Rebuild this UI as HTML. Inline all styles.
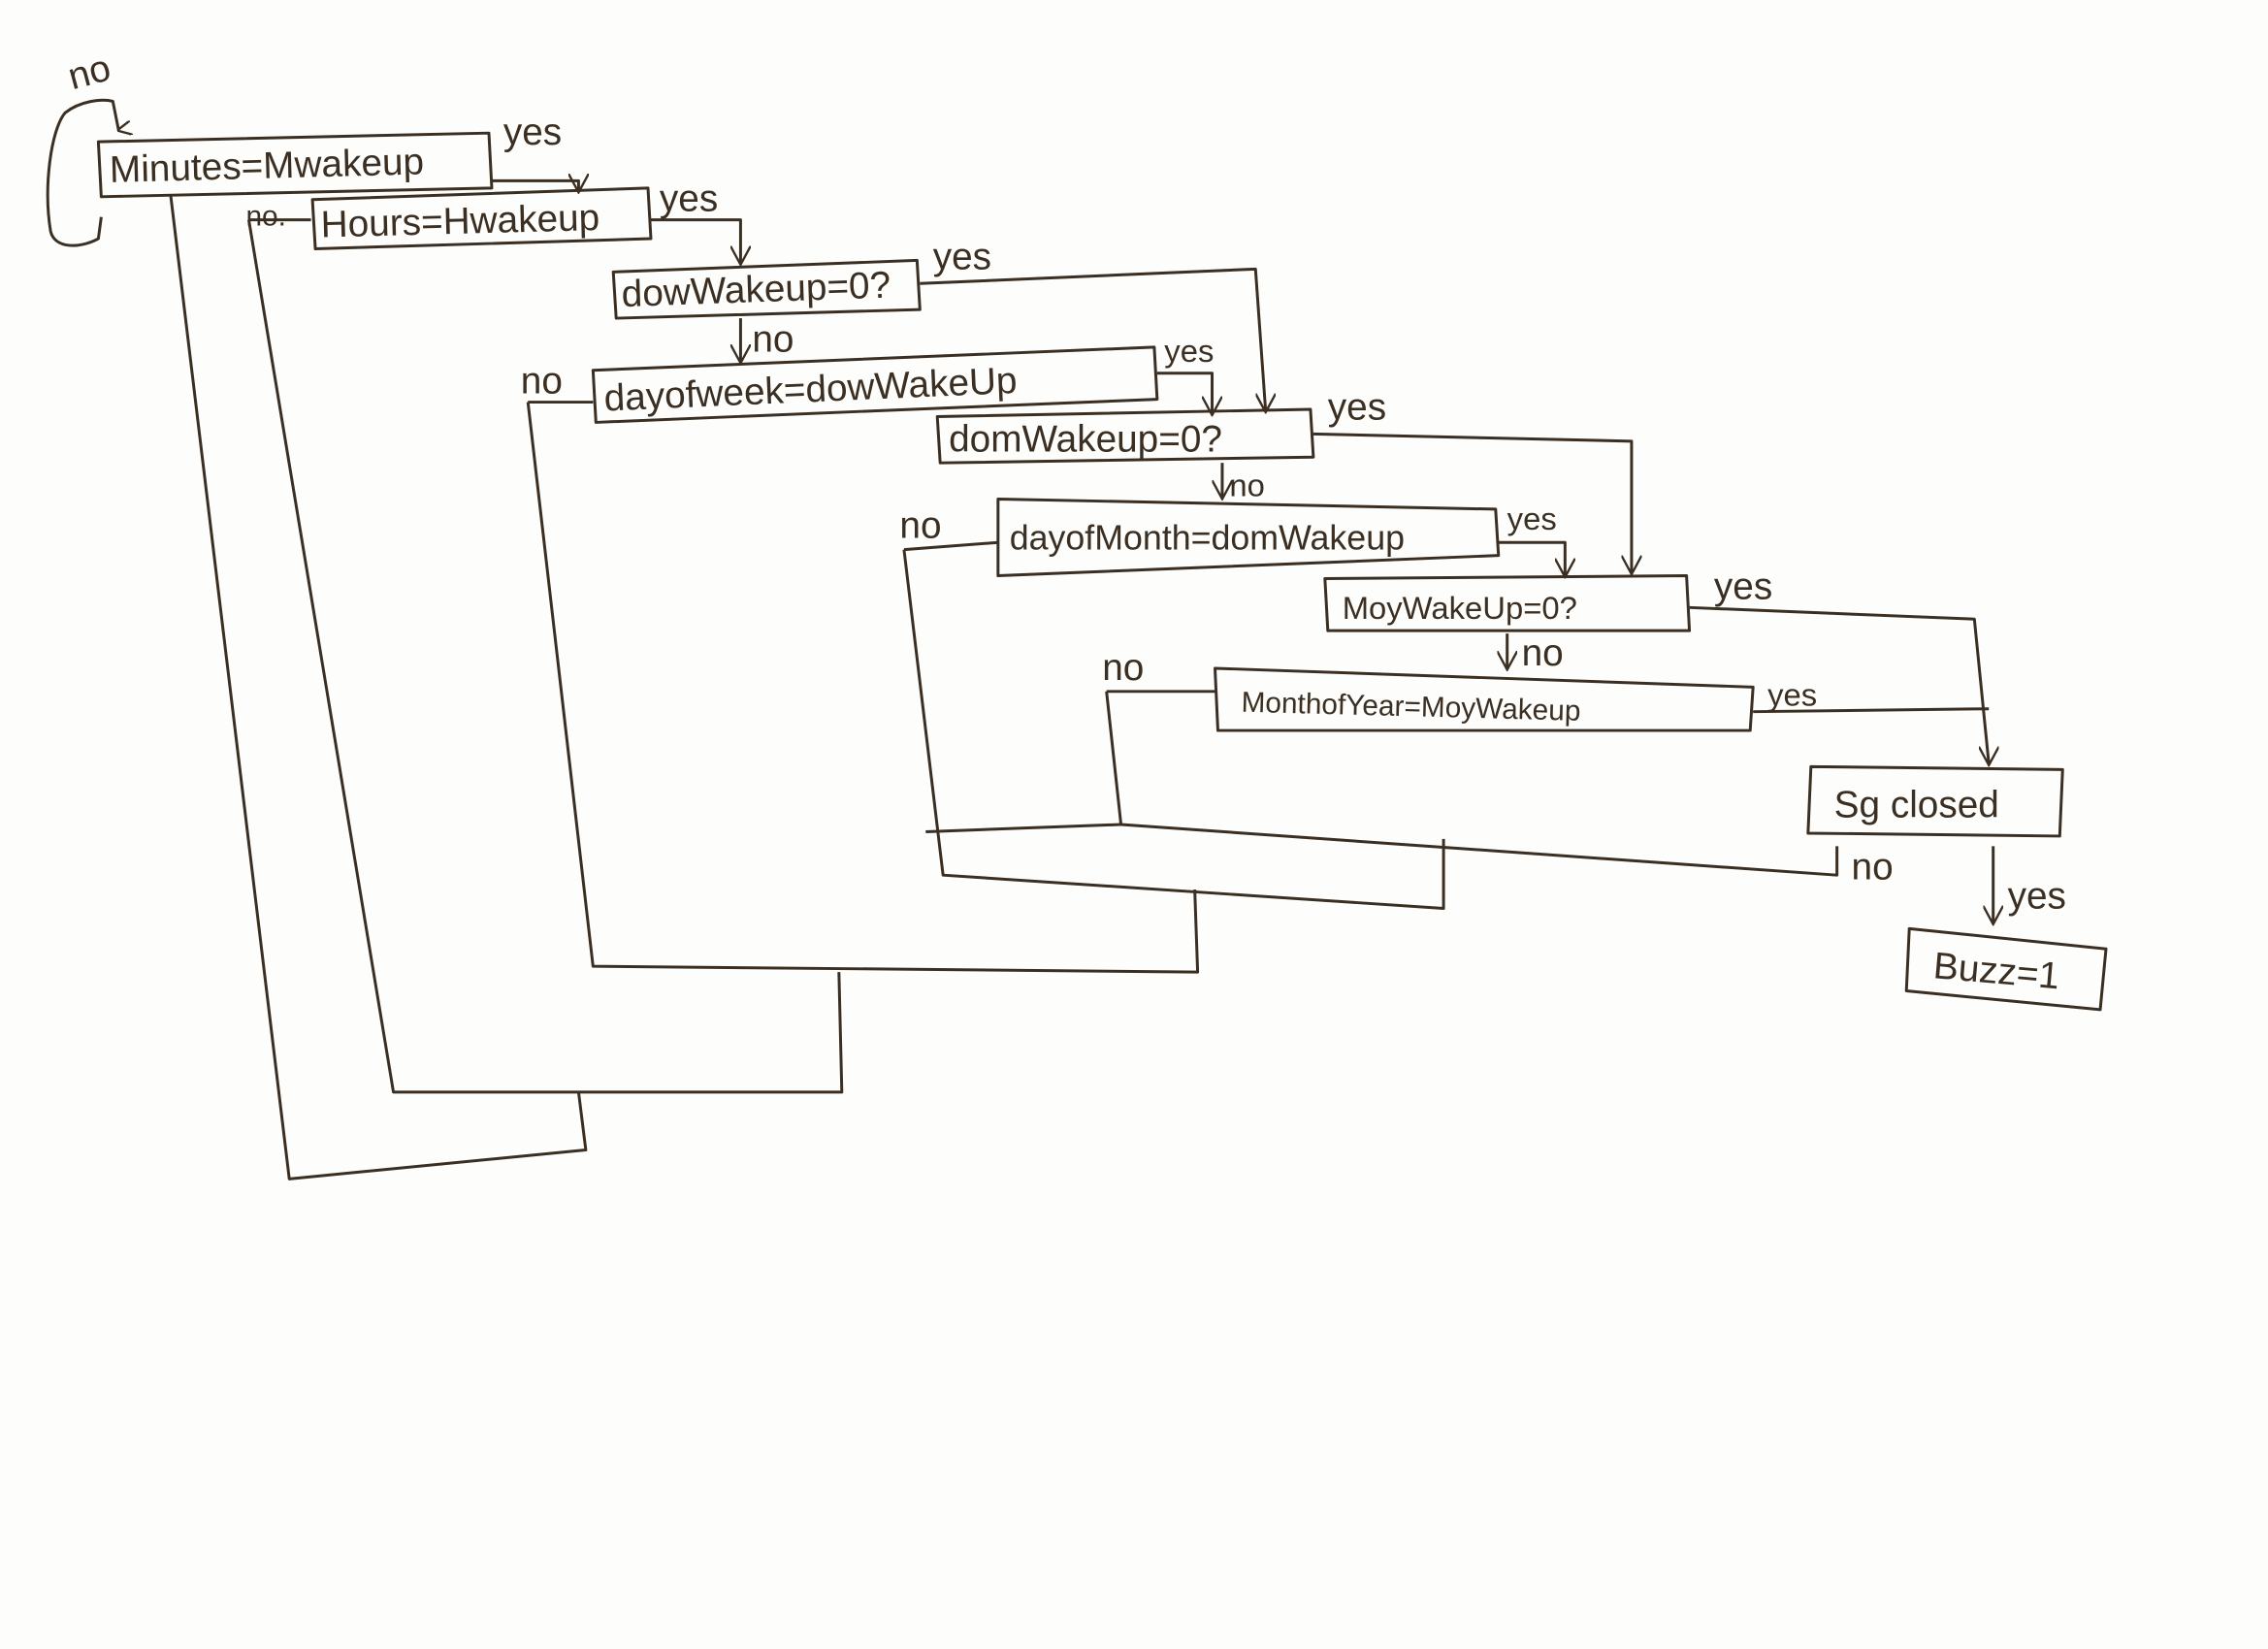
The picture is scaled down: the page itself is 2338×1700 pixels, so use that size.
<!DOCTYPE html>
<html><head><meta charset="utf-8"><style>
html,body{margin:0;padding:0;background:#fdfdfb;}
svg{display:block;}
text{font-family:"Liberation Sans",sans-serif;fill:#3a2f22;}
</style></head><body>
<svg width="2338" height="1700" viewBox="0 0 1568 1140" preserveAspectRatio="none" xmlns="http://www.w3.org/2000/svg">
<defs><marker id="a" markerWidth="10" markerHeight="10" refX="5" refY="9" orient="auto" markerUnits="userSpaceOnUse"><path d="M0,0 L5,10 L10,0" fill="none" stroke="#3a2f22" stroke-width="1.6"/></marker>
<marker id="d" markerWidth="14" markerHeight="14" refX="7" refY="12" orient="0" markerUnits="userSpaceOnUse"><path d="M0,0 L7,13 L14,0" fill="none" stroke="#3a2f22" stroke-width="1.6"/></marker></defs>
<rect width="1568" height="1140" fill="#fdfdfb"/>
<g fill="none" stroke="#3a2f22" stroke-width="2" stroke-linejoin="round">
<path d="M68,98 L338,92 L340,130 L70,136 Z"/>
<path d="M216,138 L448,130 L450,165 L218,172 Z"/>
<path d="M424,188 L634,180 L636,214 L426,220 Z"/>
<path d="M410,256 L798,240 L800,276 L412,292 Z"/>
<path d="M648,288 L906,283 L908,316 L650,320 Z"/>
<path d="M690,345 L1034,352 L1036,384 L690,398 Z"/>
<path d="M916,400 L1166,398 L1168,436 L918,436 Z"/>
<path d="M840,462 L1212,475 L1210,505 L842,505 Z"/>
<path d="M1252,530 L1426,532 L1424,578 L1250,576 Z"/>
<path d="M1320,642 L1456,656 L1452,698 L1318,685 Z"/>
<path d="M70,150 L68,165 C55,172 38,172 35,160 C30,130 35,90 45,78 C55,70 70,68 78,70 L82,90" marker-end="url(#a)"/>
<path d="M118,135 L200,815 L405,795 L400,755"/>
<path d="M172,152 L215,152 M172,152 L272,755 L582,755 L580,672"/>
<path d="M365,278 L410,278 M365,278 L410,668 L828,672 L826,615"/>
<path d="M625,380 L690,375 M625,380 L652,605 L998,628 L998,580"/>
<path d="M640,575 L775,570"/>
<path d="M765,478 L840,478 M765,478 L775,570 L1270,605 L1270,585"/>
<path d="M340,125 L400,125 L400,132" marker-end="url(#d)"/>
<path d="M450,152 L512,152 L512,182" marker-end="url(#d)"/>
<path d="M636,196 L868,186 L875,284" marker-end="url(#d)"/>
<path d="M512,220 L512,250" marker-end="url(#d)"/>
<path d="M800,258 L838,258 L838,286" marker-end="url(#d)"/>
<path d="M908,300 L1128,305 L1128,396" marker-end="url(#d)"/>
<path d="M845,320 L845,344" marker-end="url(#d)"/>
<path d="M1036,375 L1082,375 L1082,398" marker-end="url(#d)"/>
<path d="M1168,420 L1365,428 L1375,528" marker-end="url(#d)"/>
<path d="M1042,438 L1042,462" marker-end="url(#d)"/>
<path d="M1212,492 L1375,490"/>
<path d="M1378,585 L1378,638" marker-end="url(#d)"/>
</g>
<g font-size="26">
<text x="76" y="126" transform="rotate(-1.5 76 126)">Minutes=Mwakeup</text>
<text x="222" y="164" transform="rotate(-1.5 222 164)">Hours=Hwakeup</text>
<text x="430" y="212" transform="rotate(-2 430 212)">dowWakeup=0?</text>
<text x="418" y="284" transform="rotate(-2.5 418 284)">dayofweek=dowWakeUp</text>
<text x="656" y="312">domWakeup=0?</text>
<text x="698" y="380" font-size="24">dayofMonth=domWakeup</text>
<text x="928" y="428" font-size="22">MoyWakeUp=0?</text>
<text x="858" y="492" font-size="20" transform="rotate(1.5 858 492)">MonthofYear=MoyWakeup</text>
<text x="1268" y="565">Sg closed</text>
<text x="1336" y="676" transform="rotate(5 1336 676)">Buzz=1</text>
<text x="50" y="62" transform="rotate(-15 50 62)">no</text>
<text x="348" y="100">yes</text>
<text x="170" y="156" font-size="20">no.</text>
<text x="456" y="146">yes</text>
<text x="645" y="186">yes</text>
<text x="520" y="243">no</text>
<text x="360" y="272">no</text>
<text x="805" y="250" font-size="22">yes</text>
<text x="918" y="290">yes</text>
<text x="850" y="343" font-size="22">no</text>
<text x="622" y="372">no</text>
<text x="1042" y="366" font-size="22">yes</text>
<text x="1185" y="414">yes</text>
<text x="1052" y="460">no</text>
<text x="762" y="470">no</text>
<text x="1222" y="488" font-size="22">yes</text>
<text x="1280" y="608">no</text>
<text x="1388" y="628">yes</text>
</g>
</svg>
</body></html>
